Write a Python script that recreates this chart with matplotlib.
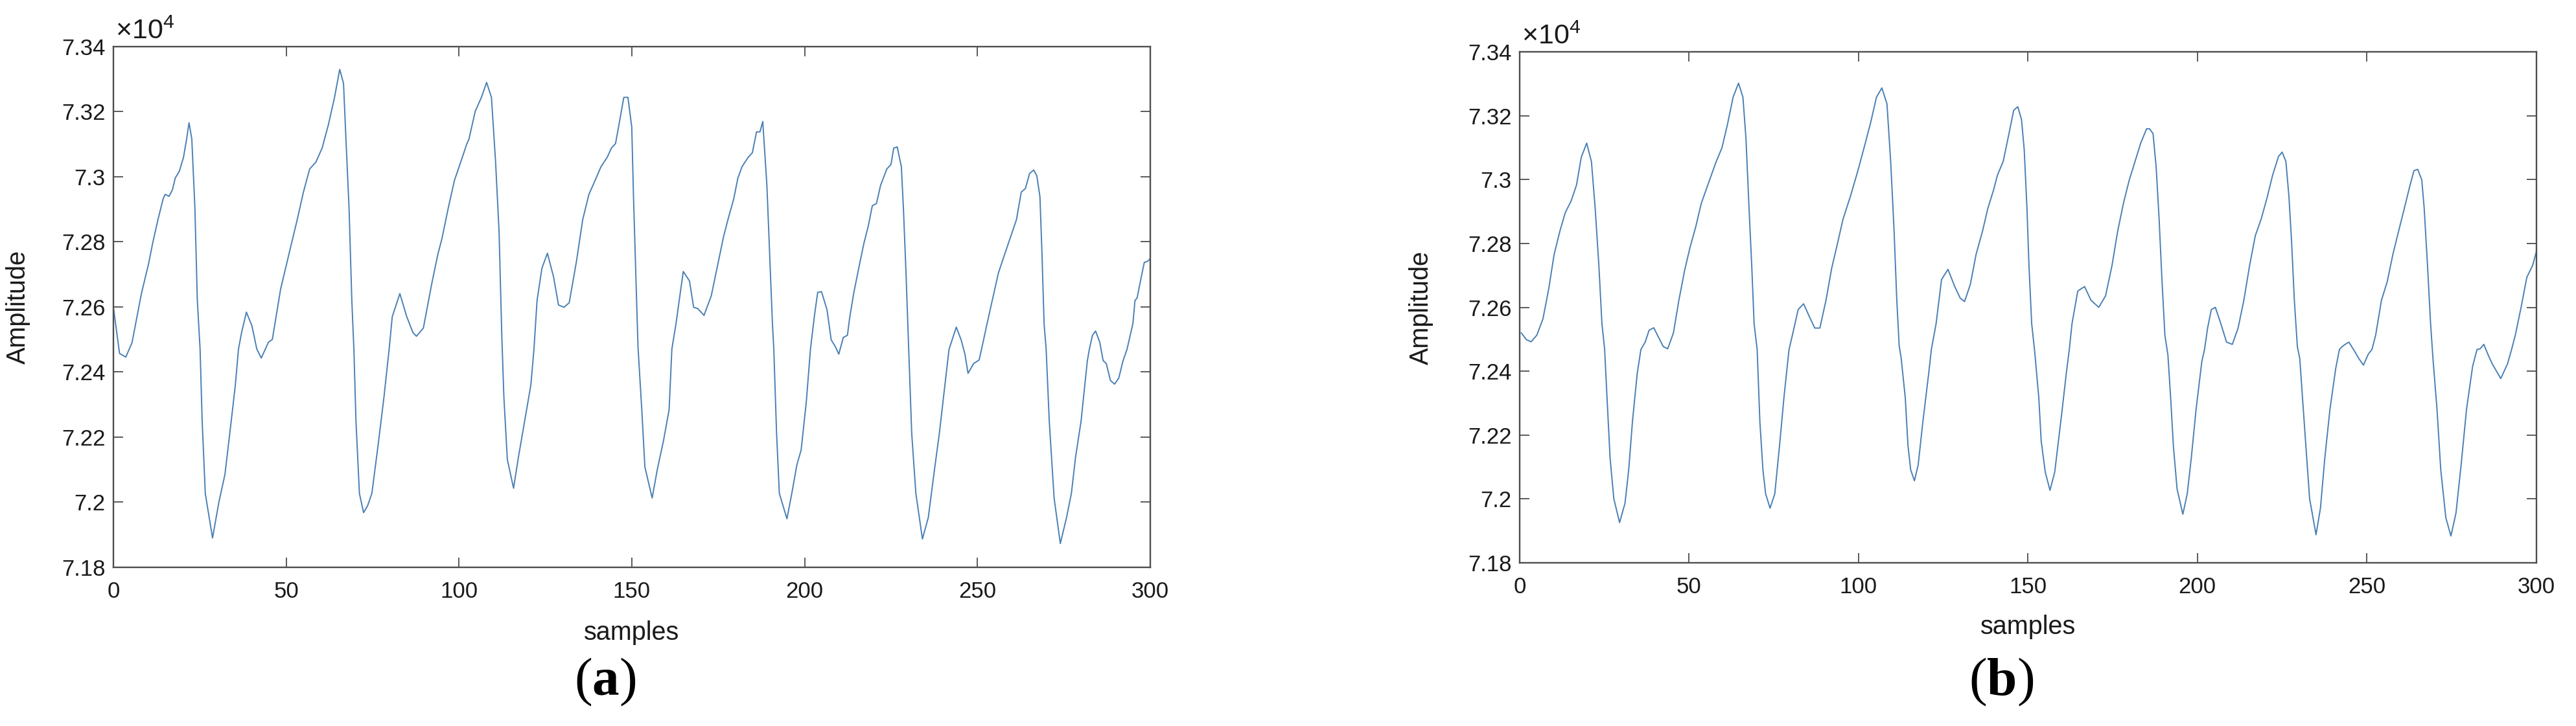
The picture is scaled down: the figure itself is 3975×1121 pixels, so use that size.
import matplotlib
matplotlib.use('Agg')
import matplotlib.pyplot as plt
from matplotlib.ticker import FuncFormatter

plt.rcParams['font.family'] = ['Liberation Sans', 'DejaVu Sans']
plt.rcParams['mathtext.fontset'] = 'custom'
plt.rcParams['mathtext.rm'] = 'Liberation Sans'
plt.rcParams['mathtext.bf'] = 'Liberation Serif:bold'

# amplitude values are in units of 1e4 (axis carries the x10^4 multiplier)
x_a = [0, 1.8, 3.6, 5.4, 8.1, 10.2, 11.4, 12.9, 14.4, 15.0, 16.1, 17.1, 17.9, 19.1, 20.3, 21.2, 21.9, 22.7,
       23.6, 24.3, 25.1, 25.7, 26.6, 28.7, 30.5, 32.3, 34.1, 35.3, 36.2, 37.1, 38.5, 40.1, 41.5, 42.8,
       44.9, 46.0, 48.4, 50.8, 53.2, 55.0, 56.8, 58.6, 60.4, 62.2, 64.0, 65.5, 66.6, 67.3, 68.2, 69.0,
       69.6, 70.2, 71.2, 72.4, 73.6, 74.8, 76.6, 78.3, 79.8, 80.7, 82.9, 84.9, 86.7, 87.7, 89.7, 92.1,
       93.9, 95.1, 96.9, 98.7, 100.5, 102.3, 102.9, 104.7, 106.5, 108.0, 109.4, 110.6, 111.6, 112.4,
       113.0, 114.0, 115.8, 117.2, 119.0, 120.8, 121.7, 122.6, 124.0, 125.6, 127.4, 128.8, 130.4, 131.9,
       134.0, 135.8, 137.6, 139.4, 141.1, 142.9, 144.1, 145.3, 146.4, 147.7, 148.9, 150.0, 150.5, 151.2,
       151.8, 152.9, 153.8, 155.9, 157.4, 159.2, 160.8, 161.6, 162.8, 164.9, 166.7, 167.9, 169.1, 170.9,
       173.0, 174.8, 176.6, 178.0, 179.5, 180.7, 181.9, 183.7, 184.9, 186.1, 187.1, 187.9, 189.1, 189.9,
       190.7, 191.1, 191.9, 192.7, 194.9, 196.3, 197.8, 199.0, 200.5, 201.7, 202.9, 203.8, 204.9, 206.5,
       207.7, 208.9, 209.9, 211.2, 212.4, 213.0, 214.2, 215.8, 217.2, 218.4, 219.6, 220.8, 222.0, 223.8,
       225.0, 225.8, 226.8, 228.0, 228.6, 229.4, 230.1, 231.0, 232.2, 234.1, 235.8, 237.6, 239.0, 240.2,
       241.8, 243.9, 245.3, 246.4, 247.3, 248.9, 250.5, 251.2, 253.1, 254.3, 256.1, 257.9, 259.7, 261.3,
       262.7, 263.9, 265.1, 266.3, 267.2, 268.1, 268.7, 269.3, 269.9, 270.8, 272.2, 274.0, 275.8, 277.2,
       278.4, 280.0, 281.8, 282.4, 283.3, 284.2, 285.4, 286.4, 287.3, 288.5, 289.7, 290.9, 292.1, 293.3,
       295.0, 295.6, 296.2, 297.4, 298.3, 299.2, 300.0]
y_a = [7.2600, 7.2457, 7.2446, 7.2490, 7.2640, 7.2733, 7.2797, 7.2868, 7.2932, 7.2946, 7.2940, 7.2960,
       7.2996, 7.3017, 7.3060, 7.3116, 7.3166, 7.3116, 7.2904, 7.2620, 7.2470, 7.2249, 7.2027, 7.1890,
       7.1998, 7.2086, 7.2249, 7.2360, 7.2470, 7.2521, 7.2584, 7.2542, 7.2471, 7.2443, 7.2492, 7.2500,
       7.2655, 7.2762, 7.2868, 7.2953, 7.3024, 7.3045, 7.3088, 7.3159, 7.3244, 7.3330, 7.3287, 7.3116,
       7.2904, 7.2620, 7.2470, 7.2249, 7.2027, 7.1968, 7.1990, 7.2027, 7.2175, 7.2323, 7.2470, 7.2570,
       7.2641, 7.2570, 7.2521, 7.2510, 7.2535, 7.2670, 7.2762, 7.2811, 7.2904, 7.2989, 7.3045, 7.3102,
       7.3116, 7.3201, 7.3244, 7.3290, 7.3244, 7.3045, 7.2833, 7.2510, 7.2323, 7.2131, 7.2043, 7.2138,
       7.2249, 7.2360, 7.2470, 7.2620, 7.2719, 7.2765, 7.2691, 7.2606, 7.2599, 7.2613, 7.2740, 7.2868,
       7.2946, 7.2989, 7.3031, 7.3060, 7.3088, 7.3102, 7.3166, 7.3244, 7.3244, 7.3152, 7.2939, 7.2691,
       7.2478, 7.2284, 7.2108, 7.2013, 7.2101, 7.2190, 7.2284, 7.2470, 7.2549, 7.2709, 7.2680, 7.2599,
       7.2595, 7.2574, 7.2634, 7.2726, 7.2818, 7.2875, 7.2932, 7.2996, 7.3031, 7.3060, 7.3074, 7.3138,
       7.3138, 7.3170, 7.2974, 7.2762, 7.2549, 7.2470, 7.2212, 7.2027, 7.1949, 7.2027, 7.2116, 7.2160,
       7.2308, 7.2470, 7.2577, 7.2645, 7.2647, 7.2591, 7.2499, 7.2478, 7.2455, 7.2506, 7.2513, 7.2563,
       7.2641, 7.2726, 7.2797, 7.2847, 7.2911, 7.2918, 7.2974, 7.3024, 7.3038, 7.3088, 7.3092, 7.3031,
       7.2904, 7.2691, 7.2478, 7.2212, 7.2027, 7.1887, 7.1953, 7.2101, 7.2212, 7.2323, 7.2470, 7.2538,
       7.2499, 7.2455, 7.2396, 7.2426, 7.2437, 7.2470, 7.2563, 7.2620, 7.2705, 7.2762, 7.2818, 7.2868,
       7.2953, 7.2964, 7.3010, 7.3021, 7.3003, 7.2939, 7.2762, 7.2549, 7.2470, 7.2249, 7.2013, 7.1873,
       7.1953, 7.2027, 7.2138, 7.2249, 7.2433, 7.2470, 7.2513, 7.2526, 7.2492, 7.2435, 7.2426, 7.2374,
       7.2363, 7.2381, 7.2433, 7.2470, 7.2549, 7.2620, 7.2627, 7.2691, 7.2737, 7.2740, 7.2748]

x_b = [0.5, 2.0, 3.4, 5.1, 6.9, 8.6, 10.2, 11.9, 13.5, 15.2, 16.8, 18.2, 19.8, 21.2, 22.3, 23.4, 24.3, 25.1,
       25.8, 26.7, 27.8, 29.5, 31.1, 32.2, 33.3, 34.7, 35.8, 37.1, 38.2, 39.6, 41.0, 42.4, 43.7, 45.4,
       47.0, 48.7, 50.3, 52.0, 53.6, 55.8, 58.0, 59.7, 61.3, 63.0, 64.6, 65.9, 66.8, 67.7, 68.5, 69.2,
       70.1, 70.9, 71.8, 72.6, 73.9, 75.3, 76.7, 78.0, 79.5, 80.5, 82.2, 83.8, 85.5, 87.1, 88.6, 90.4,
       92.1, 93.7, 95.4, 97.6, 99.8, 102.0, 103.6, 105.3, 106.9, 108.4, 109.5, 110.5, 111.3, 112.0,
       112.6, 113.8, 114.6, 115.4, 116.5, 117.6, 119.0, 120.7, 121.5, 122.9, 124.5, 126.4, 128.4, 130.0,
       131.3, 133.0, 134.7, 136.6, 138.2, 139.9, 141.0, 142.7, 144.4, 145.8, 147.0, 148.1, 148.9, 149.7,
       150.3, 151.1, 152.0, 153.2, 153.9, 155.1, 156.5, 157.9, 159.0, 160.1, 161.3, 162.2, 163.0, 164.7,
       166.7, 168.6, 170.9, 172.9, 174.8, 176.5, 178.2, 179.9, 181.6, 183.3, 185.0, 185.9, 186.9, 187.8,
       188.7, 189.5, 190.4, 191.3, 192.1, 192.9, 194.0, 195.7, 197.0, 198.2, 199.6, 201.3, 202.1, 203.0,
       204.1, 205.3, 206.9, 208.6, 210.3, 212.0, 213.7, 215.4, 217.1, 218.8, 220.5, 222.2, 223.9, 225.0,
       226.1, 227.0, 227.8, 228.6, 229.5, 230.2, 231.0, 232.0, 233.1, 235.0, 236.3, 237.6, 239.1, 240.8,
       241.9, 242.7, 243.6, 244.7, 246.4, 247.6, 249.0, 250.4, 251.5, 252.6, 254.3, 256.0, 257.7, 259.4,
       261.1, 262.8, 263.9, 265.0, 266.2, 266.9, 267.9, 268.8, 269.5, 270.7, 271.8, 273.3, 274.8, 276.3,
       277.8, 279.4, 281.2, 282.5, 283.4, 284.5, 285.9, 287.0, 289.5, 291.5, 292.7, 293.8, 295.5, 297.2,
       298.9, 300.0]
y_b = [7.2520, 7.2499, 7.2492, 7.2513, 7.2564, 7.2658, 7.2766, 7.2839, 7.2897, 7.2933, 7.2983, 7.3070,
       7.3114, 7.3056, 7.2911, 7.2730, 7.2549, 7.2468, 7.2317, 7.2129, 7.2001, 7.1926, 7.1986, 7.2091,
       7.2242, 7.2392, 7.2468, 7.2492, 7.2528, 7.2536, 7.2506, 7.2477, 7.2470, 7.2520, 7.2622, 7.2716,
       7.2788, 7.2853, 7.2925, 7.2991, 7.3056, 7.3099, 7.3171, 7.3258, 7.3302, 7.3258, 7.3128, 7.2911,
       7.2730, 7.2549, 7.2468, 7.2242, 7.2091, 7.2016, 7.1971, 7.2016, 7.2167, 7.2317, 7.2468, 7.2513,
       7.2593, 7.2611, 7.2571, 7.2535, 7.2535, 7.2622, 7.2723, 7.2795, 7.2875, 7.2947, 7.3027, 7.3114,
       7.3179, 7.3258, 7.3287, 7.3237, 7.3056, 7.2839, 7.2622, 7.2480, 7.2440, 7.2317, 7.2167, 7.2091,
       7.2057, 7.2106, 7.2242, 7.2392, 7.2468, 7.2549, 7.2687, 7.2719, 7.2665, 7.2629, 7.2618, 7.2672,
       7.2766, 7.2839, 7.2911, 7.2969, 7.3014, 7.3057, 7.3144, 7.3217, 7.3228, 7.3188, 7.3093, 7.2912,
       7.2730, 7.2549, 7.2460, 7.2317, 7.2182, 7.2084, 7.2027, 7.2084, 7.2182, 7.2280, 7.2392, 7.2468,
       7.2549, 7.2651, 7.2665, 7.2622, 7.2600, 7.2636, 7.2731, 7.2840, 7.2927, 7.2999, 7.3057, 7.3115,
       7.3159, 7.3159, 7.3144, 7.3043, 7.2876, 7.2694, 7.2513, 7.2450, 7.2317, 7.2167, 7.2031, 7.1952,
       7.2016, 7.2129, 7.2280, 7.2430, 7.2468, 7.2535, 7.2593, 7.2600, 7.2549, 7.2491, 7.2484, 7.2535,
       7.2622, 7.2731, 7.2825, 7.2876, 7.2941, 7.3014, 7.3072, 7.3086, 7.3057, 7.2948, 7.2803, 7.2622,
       7.2476, 7.2440, 7.2317, 7.2167, 7.2001, 7.1888, 7.1971, 7.2129, 7.2280, 7.2408, 7.2468, 7.2477,
       7.2484, 7.2491, 7.2462, 7.2440, 7.2419, 7.2453, 7.2468, 7.2513, 7.2622, 7.2680, 7.2767, 7.2840,
       7.2912, 7.2985, 7.3028, 7.3032, 7.2999, 7.2912, 7.2730, 7.2549, 7.2440, 7.2280, 7.2091, 7.1941,
       7.1884, 7.1956, 7.2106, 7.2280, 7.2415, 7.2468, 7.2470, 7.2484, 7.2448, 7.2423, 7.2377, 7.2423,
       7.2468, 7.2513, 7.2600, 7.2694, 7.2731, 7.2774]

x_ticks = [0, 50, 100, 150, 200, 250, 300]
y_ticks = [7.18, 7.20, 7.22, 7.24, 7.26, 7.28, 7.30, 7.32, 7.34]
panel_labels = ['a', 'b']

line_color = '#4a80b4'
axis_color = '#4d4d4d'

fig = plt.figure(figsize=(39.75, 11.21), dpi=100)
ax_a = fig.add_axes([0.0440, 0.2186, 0.4025, 0.7172])
ax_b = fig.add_axes([0.5899, 0.2248, 0.3947, 0.7038])

for ax, xs, ys, ylab_x in [(ax_a, x_a, y_a, -0.080), (ax_b, x_b, y_b, -0.085)]:
    ax.plot(xs, ys, color=line_color, lw=1.4)
    ax.set_xlim(0, 300)
    ax.set_ylim(7.18, 7.34)
    ax.set_xticks(x_ticks)
    ax.set_yticks(y_ticks)
    ax.yaxis.set_major_formatter(FuncFormatter(lambda v, p: '%g' % round(v, 2)))
    ax.tick_params(direction='in', length=11, width=1.3, colors=axis_color,
                   labelcolor='#1a1a1a', labelsize=25, top=True, right=True)
    ax.tick_params(axis='x', pad=15)
    ax.tick_params(axis='y', pad=9)
    for s in ax.spines.values():
        s.set_color(axis_color)
        s.set_linewidth(1.7)
    ax.set_xlabel('samples', fontsize=28.5, color='#1a1a1a')
    ax.set_ylabel('Amplitude', fontsize=28.5, color='#1a1a1a')
    ax.xaxis.set_label_coords(0.5, -0.102)
    ax.yaxis.set_label_coords(ylab_x, 0.5)
    ax.text(0.002, 1.004, r'$\times\mathregular{10^{4}}$', transform=ax.transAxes,
            fontsize=31, color='#1a1a1a', ha='left', va='bottom')

fig.text(0.2350, 0.060, r'($\mathbf{%s}$)' % panel_labels[0], family='Liberation Serif',
         fontsize=60, ha='center', va='center')
fig.text(0.7769, 0.060, r'($\mathbf{%s}$)' % panel_labels[1], family='Liberation Serif',
         fontsize=60, ha='center', va='center')

fig.savefig('out.png', dpi=100, facecolor='white')
